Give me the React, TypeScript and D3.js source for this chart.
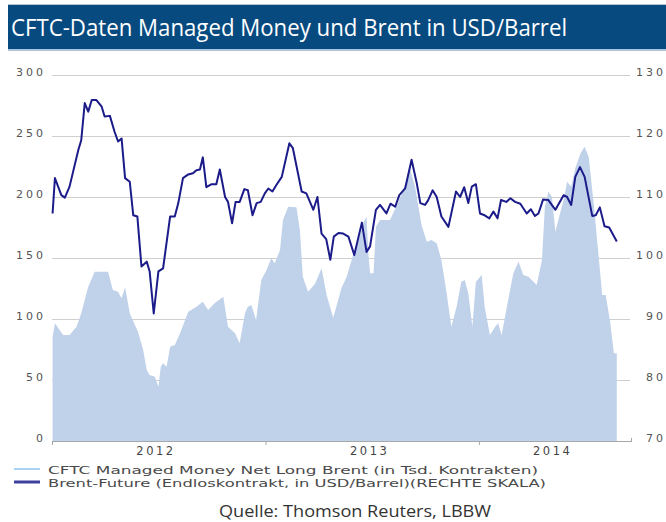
import React from "react";
import * as d3 from "d3";

const cftcDates = [
  "2012-01-02","2012-01-06","2012-01-20","2012-01-31","2012-02-12","2012-02-20","2012-03-03","2012-03-14",
  "2012-04-06","2012-04-14","2012-04-23","2012-04-29","2012-05-05","2012-05-13","2012-05-27","2012-06-05",
  "2012-06-11","2012-06-16","2012-06-25","2012-07-01","2012-07-05","2012-07-09","2012-07-15","2012-07-21",
  "2012-07-29","2012-08-07","2012-08-21","2012-09-04","2012-09-15","2012-09-24","2012-10-05","2012-10-20",
  "2012-10-28","2012-11-09","2012-11-17","2012-11-26","2012-12-01","2012-12-07","2012-12-15","2012-12-24",
  "2013-01-02","2013-01-10","2013-01-16","2013-01-25","2013-01-30","2013-02-08","2013-02-22","2013-02-28",
  "2013-03-05","2013-03-14","2013-03-26","2013-04-06","2013-04-15","2013-04-26","2013-05-10","2013-05-19",
  "2013-05-30","2013-06-08","2013-06-16","2013-06-22","2013-06-25","2013-06-28","2013-07-04","2013-07-08",
  "2013-07-15","2013-08-01","2013-08-13","2013-08-24","2013-09-04","2013-09-13","2013-09-24","2013-10-03",
  "2013-10-11","2013-10-20","2013-10-28","2013-11-06","2013-11-14","2013-11-23","2013-12-01","2013-12-07",
  "2013-12-13","2013-12-20","2013-12-26","2014-01-05","2014-01-10","2014-01-19","2014-01-28","2014-02-02",
  "2014-02-08","2014-02-17","2014-02-28","2014-03-09","2014-03-17","2014-03-26","2014-04-09","2014-04-18",
  "2014-04-23","2014-04-29","2014-05-05","2014-05-11","2014-05-16","2014-05-25","2014-05-31","2014-06-07",
  "2014-06-14","2014-06-23","2014-06-30","2014-07-07","2014-07-16","2014-07-24","2014-07-30","2014-08-05",
  "2014-08-13","2014-08-19","2014-08-24"
];
const cftcValues = [
  85.5, 96.5, 86.9, 86.9, 93.7, 104.7, 126.5, 138.8,
  138.8, 123.8, 122.4, 117, 126, 104.7, 89.6, 74.6,
  58.2, 54.1, 52.7, 44.5, 60.9, 63.7, 60.9, 77.3,
  78.7, 88.3, 106, 110, 114.2, 107.4, 112.9, 118.3,
  93.7, 88.3, 80.1, 104.7, 110, 111.5, 99.2, 132,
  140.2, 149.8, 145.7, 156.6, 181.1, 192, 191.6, 173,
  134.7, 122.4, 128.8, 141.6, 119, 101, 125.2, 134.7,
  152.5, 163.4, 178.4, 183.9, 153.9, 137.5, 137.5, 175.7,
  181.1, 181.1, 193.4, 205.7, 223.5, 208.4, 177, 163.4,
  164.8, 162, 148.4, 121.1, 93.7, 110, 130.6, 132,
  121.1, 93.7, 130.6, 136, 110, 86.9, 93.7, 96.5,
  86.9, 110, 137.5, 147, 136, 134.7, 127.9, 148.4,
  192, 204.3, 200.2, 171.6, 181.1, 197.5, 212.5, 208.4,
  223.5, 235.8, 241.2, 233, 192, 151.1, 119.7, 119.7,
  96.5, 71.9, 71.9
];

const brentDates = [
  "2012-01-02","2012-01-06","2012-01-17","2012-01-23","2012-01-31","2012-02-15","2012-02-20","2012-02-26",
  "2012-03-03","2012-03-09","2012-03-17","2012-03-26","2012-03-31","2012-04-09","2012-04-17","2012-04-23",
  "2012-04-29","2012-05-05","2012-05-13","2012-05-19","2012-05-26","2012-06-02","2012-06-11","2012-06-16",
  "2012-06-23","2012-07-01","2012-07-09","2012-07-21","2012-07-29","2012-08-04","2012-08-12","2012-08-21",
  "2012-08-29","2012-09-04","2012-09-10","2012-09-15","2012-09-21","2012-09-30","2012-10-08","2012-10-14",
  "2012-10-23","2012-10-28","2012-11-04","2012-11-10","2012-11-17","2012-11-25","2012-12-01","2012-12-09",
  "2012-12-16","2012-12-23","2012-12-30","2013-01-05","2013-01-12","2013-01-19","2013-01-28","2013-02-10",
  "2013-02-16","2013-03-03","2013-03-11","2013-03-23","2013-03-30","2013-04-06","2013-04-14","2013-04-21",
  "2013-04-27","2013-05-05","2013-05-13","2013-05-22","2013-06-01","2013-06-14","2013-06-22","2013-06-28",
  "2013-07-08","2013-07-15","2013-07-26","2013-08-02","2013-08-10","2013-08-17","2013-08-27","2013-09-07",
  "2013-09-16","2013-09-22","2013-09-30","2013-10-05","2013-10-13","2013-10-20","2013-10-28","2013-11-09",
  "2013-11-22","2013-11-29","2013-12-06","2013-12-13","2013-12-19","2013-12-26","2014-01-02","2014-01-10",
  "2014-01-18","2014-01-25","2014-02-01","2014-02-07","2014-02-16","2014-02-23","2014-03-03","2014-03-12",
  "2014-03-23","2014-03-30","2014-04-06","2014-04-12","2014-04-20","2014-04-29","2014-05-11","2014-05-25",
  "2014-05-31","2014-06-07","2014-06-14","2014-06-22","2014-06-30","2014-07-13","2014-07-19","2014-07-26",
  "2014-08-03","2014-08-11","2014-08-24"
];
const brentValues = [
  107.3, 113.1, 110.3, 109.9, 111.7, 117.7, 119.3, 125.4,
  124.0, 125.9, 125.9, 124.8, 123.2, 123.3, 120.7, 119.1,
  119.6, 113.1, 112.5, 107.0, 106.8, 98.6, 99.4, 97.8,
  90.9, 97.8, 98.3, 106.8, 106.8, 109.0, 113.1, 113.7,
  113.9, 114.4, 114.5, 116.5, 111.6, 112.1, 112.1, 114.5,
  110.0, 109.2, 105.7, 109.2, 109.2, 111.3, 111.1, 107.0,
  109.0, 109.2, 110.6, 111.4, 110.9, 112.0, 113.3, 118.8,
  118.0, 110.9, 110.6, 107.9, 110.0, 104.0, 103.1, 99.7,
  103.5, 104.1, 104.0, 103.5, 100.5, 105.8, 101.0, 101.9,
  107.9, 108.7, 107.3, 108.9, 108.4, 110.3, 111.4, 116.1,
  112.2, 109.0, 108.7, 109.4, 111.1, 110.0, 106.8, 105.1,
  110.9, 110.0, 111.6, 109.0, 111.7, 112.1, 107.3, 107.0,
  106.5, 107.6, 106.5, 109.5, 109.2, 109.8, 109.2, 108.9,
  107.3, 108.0, 106.9, 107.3, 109.6, 109.5, 107.9, 110.3,
  110.0, 108.7, 113.3, 114.9, 113.3, 106.9, 107.0, 108.3,
  105.2, 105.0, 102.7
];

const leftTicks = [0, 50, 100, 150, 200, 250, 300];
const rightTicks = [70, 80, 90, 100, 110, 120, 130];
const yearLabels = ["2012", "2013", "2014"];
const domainStart = "2012-01-01";
const domainEnd = "2014-09-19";

const titleText = "CFTC-Daten Managed Money und Brent in USD/Barrel";
const legendLabels = [
  "CFTC Managed Money Net Long Brent (in Tsd. Kontrakten)",
  "Brent-Future (Endloskontrakt, in USD/Barrel)(RECHTE SKALA)",
];
const sourceText = "Quelle: Thomson Reuters, LBBW";

const parse = d3.timeParse("%Y-%m-%d");

export default function App() {
  const W = 666, H = 522;
  const left = 52, right = 632, top = 75, bottom = 441;
  const x = d3.scaleTime().domain([parse(domainStart)!, parse(domainEnd)!]).range([left, right]);
  const yL = d3.scaleLinear().domain([0, 300]).range([bottom, top]);
  const yR = d3.scaleLinear().domain([70, 130]).range([bottom, top]);

  const cftc = cftcDates.map((d, i) => ({ date: parse(d)!, v: cftcValues[i] }));
  const brent = brentDates.map((d, i) => ({ date: parse(d)!, v: brentValues[i] }));

  const areaPath = d3.area<{ date: Date; v: number }>()
    .x(d => x(d.date)).y0(yL(0)).y1(d => yL(d.v))(cftc) || "";
  const linePath = d3.line<{ date: Date; v: number }>()
    .x(d => x(d.date)).y(d => yR(d.v))(brent) || "";

  const [d0, d1] = x.domain();
  const years = yearLabels.map(y => {
    const ys = new Date(+y, 0, 1), ye = new Date(+y + 1, 0, 1);
    const a = x(ys < d0 ? d0 : ys), b = x(ye > d1 ? d1 : ye);
    return { label: y, mid: (a + b) / 2 - 3, boundary: x(ys) };
  });

  const axisFont = "'DejaVu Sans', Verdana, sans-serif";

  return (
    <svg width={W} height={H} style={{ position: "absolute", left: 0, top: 0, background: "#fff" }}
      xmlns="http://www.w3.org/2000/svg">
      {/* title bar */}
      <line x1={8} x2={W} y1={4.5} y2={4.5} stroke="#b5c4d3" strokeWidth={1} />
      <rect x={8} y={5} width={W - 8} height={44} fill="#064a80" />
      <line x1={8} x2={W} y1={50} y2={50} stroke="#93b1cf" strokeWidth={1.5} />
      <text x={11} y={36} fill="#fff" fontFamily="'Open Sans', sans-serif" fontSize={24}
        textLength={556} lengthAdjust="spacingAndGlyphs">{titleText}</text>

      {/* gridlines */}
      {leftTicks.filter(t => t > 0).map(t => (
        <line key={t} x1={left} x2={right - 2} y1={yL(t) + 0.5} y2={yL(t) + 0.5} stroke="#cfcfcf" strokeWidth={1} />
      ))}

      {/* area */}
      <path d={areaPath} fill="#c0d2ea" />

      {/* line */}
      <path d={linePath} fill="none" stroke="#1b1b8a" strokeWidth={2} strokeLinejoin="round" />

      {/* x axis */}
      <line x1={left} x2={right} y1={bottom + 0.5} y2={bottom + 0.5} stroke="#a8a8a8" strokeWidth={1} />
      <line x1={left + 0.5} x2={left + 0.5} y1={bottom} y2={bottom + 4} stroke="#a8a8a8" />
      <line x1={right - 0.5} x2={right - 0.5} y1={bottom - 3} y2={bottom + 1} stroke="#a8a8a8" />
      {years.filter(y => y.boundary > left + 2).map(y => (
        <line key={"t" + y.label} x1={y.boundary} x2={y.boundary} y1={bottom} y2={bottom + 4} stroke="#a8a8a8" />
      ))}
      {years.map(y => (
        <text key={y.label} x={y.mid} y={454.5} textAnchor="middle" fontFamily={axisFont} fontSize={11.5}
          letterSpacing={2.5} fill="#444">{y.label}</text>
      ))}

      {/* left axis labels */}
      {leftTicks.map(t => (
        <text key={"l" + t} x={46} y={yL(t) + 1} textAnchor="end" fontFamily={axisFont} fontSize={11}
          letterSpacing={3} fill="#555">{t}</text>
      ))}
      {/* right axis labels */}
      {rightTicks.map(t => (
        <text key={"r" + t} x={666} y={yR(t) + 1} textAnchor="end" fontFamily={axisFont} fontSize={11}
          letterSpacing={3} fill="#555">{t}</text>
      ))}

      {/* legend */}
      <line x1={14} x2={40} y1={469} y2={469} stroke="#a9d2f3" strokeWidth={2} />
      <text x={48} y={473.5} fontFamily={axisFont} fontSize={11} fill="#4a4a4a"
        textLength={490} lengthAdjust="spacingAndGlyphs">{legendLabels[0]}</text>
      <line x1={14} x2={40} y1={482} y2={482} stroke="#3f3f9e" strokeWidth={3} />
      <text x={48} y={486.5} fontFamily={axisFont} fontSize={11} fill="#4a4a4a"
        textLength={498} lengthAdjust="spacingAndGlyphs">{legendLabels[1]}</text>

      {/* source */}
      <text x={219} y={517} fontFamily="'Open Sans', sans-serif" fontSize={16} fill="#333"
        textLength={272} lengthAdjust="spacingAndGlyphs">{sourceText}</text>
    </svg>
  );
}
